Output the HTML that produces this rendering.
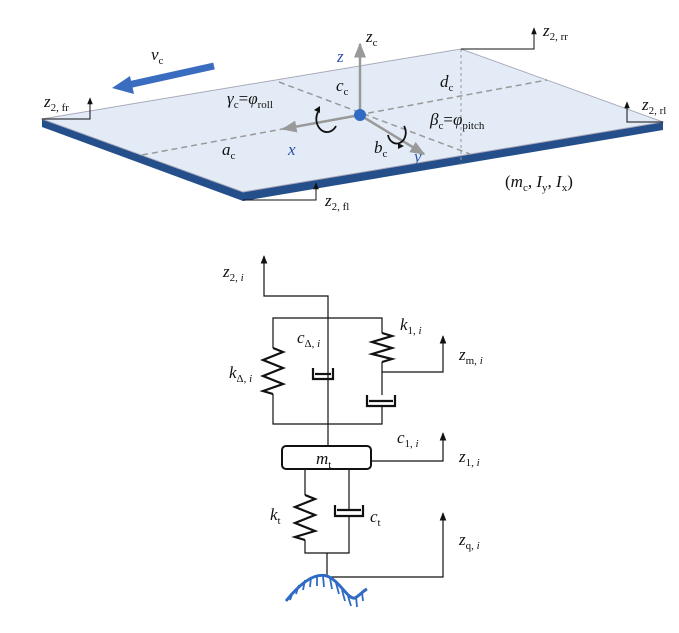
<!DOCTYPE html>
<html><head><meta charset="utf-8"><style>
body{margin:0;background:#fff}
svg{display:block}
text{font-family:"Liberation Serif",serif;font-size:17px;fill:#111}
.i{font-style:italic}
.s{font-size:11px;font-style:normal}
</style></head><body>
<svg width="679" height="633" viewBox="0 0 679 633" xmlns="http://www.w3.org/2000/svg">
<defs>
<marker id="ab" viewBox="0 0 10 10" refX="9" refY="5" markerWidth="7" markerHeight="7" orient="auto"><path d="M0,1 L10,5 L0,9 z" fill="#111"/></marker>
<marker id="ag" viewBox="0 0 10 10" refX="9" refY="5" markerWidth="6" markerHeight="6" orient="auto"><path d="M0,1 L10,5 L0,9 z" fill="#999"/></marker>
</defs>
<polygon points="42,119 243,192 663,122 663,130 243,201 42,127" fill="#244f8a"/>
<polygon points="42,119 461,49 663,122 243,192" fill="#e3ecf6" stroke="#aab" stroke-width="1"/>
<g stroke="#999" stroke-width="1.5" stroke-dasharray="6,4" fill="none">
<line x1="142" y1="155" x2="547" y2="80"/>
<line x1="279" y1="82" x2="470" y2="154"/>
<line x1="461" y1="49" x2="461" y2="165" stroke-width="1" stroke-dasharray="3,3"/>
</g>
<g stroke="#999" stroke-width="2.5" fill="none">
<line x1="360" y1="115" x2="360" y2="44" marker-end="url(#ag)"/>
<line x1="360" y1="115" x2="283" y2="129" marker-end="url(#ag)"/>
<line x1="360" y1="115" x2="424" y2="154" marker-end="url(#ag)"/>
</g>
<circle cx="360" cy="115" r="6" fill="#2f6bc4"/>
<path d="M318,112 A9,11 0 1 0 336,126" fill="none" stroke="#111" stroke-width="1.8"/>
<path d="M314,110 l6,-4 l0,7z" fill="#111"/>
<path d="M404,126 A9,11 0 1 1 388,135" fill="none" stroke="#111" stroke-width="1.8"/>
<path d="M398,143 l6,3 l-6,3z" fill="#111"/>
<line x1="214" y1="66" x2="128" y2="85" stroke="#3a6cc0" stroke-width="7"/>
<polygon points="112,88 130,76 134,94" fill="#3a6cc0"/>
<g stroke="#111" stroke-width="1" fill="none">
<polyline points="42,119 90,119 90,98" marker-end="url(#ab)"/>
<polyline points="461,49 534,49 534,28" marker-end="url(#ab)"/>
<polyline points="663,122 627,122 627,102" marker-end="url(#ab)"/>
<polyline points="243,200 316,200 316,183" marker-end="url(#ab)"/>
</g>
<text x="151" y="60" class="i">v<tspan class="s" dy="4">c</tspan></text>
<text x="366" y="42" class="i">z<tspan class="s" dy="4">c</tspan></text>
<text x="337" y="62" class="i" style="fill:#2f52a8">z</text>
<text x="336" y="91" class="i">c<tspan class="s" dy="4">c</tspan></text>
<text x="440" y="87" class="i">d<tspan class="s" dy="4">c</tspan></text>
<text x="227" y="104" class="i">γ<tspan class="s" dy="4">c</tspan><tspan dy="-4" style="font-style:normal">=</tspan>φ<tspan class="s" dy="4">roll</tspan></text>
<text x="430" y="125" class="i">β<tspan class="s" dy="4">c</tspan><tspan dy="-4" style="font-style:normal">=</tspan>φ<tspan class="s" dy="4">pitch</tspan></text>
<text x="222" y="155" class="i">a<tspan class="s" dy="4">c</tspan></text>
<text x="288" y="155" class="i" style="fill:#2f52a8">x</text>
<text x="374" y="153" class="i">b<tspan class="s" dy="4">c</tspan></text>
<text x="414" y="162" class="i" style="fill:#2f52a8">y</text>
<text x="44" y="107" class="i">z<tspan class="s" dy="4">2, fr</tspan></text>
<text x="543" y="36" class="i">z<tspan class="s" dy="4">2, rr</tspan></text>
<text x="642" y="110" class="i">z<tspan class="s" dy="4">2, rl</tspan></text>
<text x="325" y="206" class="i">z<tspan class="s" dy="4">2, fl</tspan></text>
<text x="505" y="187">(<tspan class="i">m</tspan><tspan class="s" dy="4">c</tspan><tspan dy="-4">, </tspan><tspan class="i">I</tspan><tspan class="s i" dy="4">y</tspan><tspan dy="-4">, </tspan><tspan class="i">I</tspan><tspan class="s i" dy="4">x</tspan><tspan dy="-4">)</tspan></text>

<g stroke="#111" stroke-width="1.2" fill="none">
<polyline points="328,446 328,296 264,296 264,256" marker-end="url(#ab)"/>
<polyline points="273,348 273,318 382,318 382,333"/>
<polyline points="273,394 273,424 382,424 382,406"/>
<line x1="382" y1="362" x2="382" y2="395"/>
<polyline points="382,372 443,372 443,336" marker-end="url(#ab)"/>
<rect x="282" y="446" width="89" height="23" rx="4" stroke-width="2"/>
<polyline points="371,461 443,461 443,433" marker-end="url(#ab)"/>
<polyline points="305,469 305,495"/><polyline points="305,540 305,553 349,553 349,516"/>
<polyline points="349,469 349,510"/>
<polyline points="327,553 327,577 443,577 443,513" marker-end="url(#ab)"/>
</g>
<g stroke="#111" stroke-width="2.2" fill="none" stroke-linejoin="miter">
<polyline points="273,348 283,352 263,360 283,368 263,376 283,384 263,391 273,394"/>
<polyline points="382,333 392,336 372,342 392,348 372,354 392,359 382,362"/>
<polyline points="305,495 315,499 295,507 315,515 295,523 315,531 295,537 305,540"/>
<polyline points="313,368 313,379 333,379 333,368"/>
<line x1="315" y1="374" x2="331" y2="374"/>
<polyline points="367,395 367,406 395,406 395,395"/>
<line x1="369" y1="401" x2="393" y2="401"/>
<polyline points="335,505 335,516 363,516 363,505"/>
<line x1="337" y1="510" x2="361" y2="510"/>
</g>
<path d="M286,601 C298,586 313,572 327,576 C340,581 348,600 355,598 C360,595 363,591 367,589" fill="none" stroke="#2f6bc4" stroke-width="3"/>
<g stroke="#2f6bc4" stroke-width="1.8">
<line x1="293" y1="592" x2="290" y2="600"/><line x1="299" y1="585" x2="296" y2="594"/><line x1="305" y1="580" x2="303" y2="590"/><line x1="311" y1="577" x2="310" y2="587"/><line x1="317" y1="575" x2="317" y2="586"/><line x1="323" y1="576" x2="324" y2="587"/><line x1="330" y1="578" x2="332" y2="589"/><line x1="336" y1="583" x2="339" y2="594"/><line x1="342" y1="590" x2="345" y2="601"/><line x1="348" y1="596" x2="351" y2="606"/><line x1="356" y1="596" x2="357" y2="607"/><line x1="362" y1="592" x2="363" y2="601"/>
</g>
<text x="223" y="277" class="i">z<tspan class="s" dy="4">2, <tspan class="i">i</tspan></tspan></text>
<text x="297" y="343" class="i">c<tspan class="s" dy="4">Δ, <tspan class="i">i</tspan></tspan></text>
<text x="400" y="330" class="i">k<tspan class="s" dy="4">1, <tspan class="i">i</tspan></tspan></text>
<text x="229" y="378" class="i">k<tspan class="s" dy="4">Δ, <tspan class="i">i</tspan></tspan></text>
<text x="459" y="360" class="i">z<tspan class="s" dy="4">m, <tspan class="i">i</tspan></tspan></text>
<text x="397" y="443" class="i">c<tspan class="s" dy="4">1, <tspan class="i">i</tspan></tspan></text>
<text x="459" y="462" class="i">z<tspan class="s" dy="4">1, <tspan class="i">i</tspan></tspan></text>
<text x="316" y="464" class="i">m<tspan class="s" dy="4">t</tspan></text>
<text x="270" y="520" class="i">k<tspan class="s" dy="4">t</tspan></text>
<text x="370" y="522" class="i">c<tspan class="s" dy="4">t</tspan></text>
<text x="459" y="545" class="i">z<tspan class="s" dy="4">q, <tspan class="i">i</tspan></tspan></text>
</svg>
</body></html>
